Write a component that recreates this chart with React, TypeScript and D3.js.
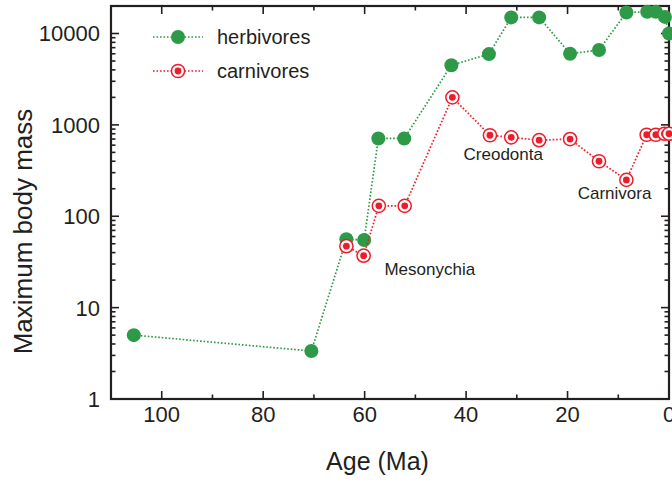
import React from "react";
import * as d3 from "d3";

const herbAge = [105.5, 70.5, 63.6, 60.1, 57.3, 52.2, 42.9, 35.5, 31.1, 25.6, 19.5, 13.8, 8.4, 4.3, 2.6, 0.8, 0];
const herbMass = [5, 3.35, 56, 55, 710, 710, 4500, 5950, 15000, 15000, 6000, 6600, 17000, 17300, 17300, 15200, 10000];
const carnAge = [63.6, 60.2, 57.2, 52.1, 42.7, 35.3, 31.1, 25.6, 19.5, 13.8, 8.4, 4.4, 2.6, 0.9, 0];
const carnMass = [47, 37, 130, 130, 2000, 770, 730, 680, 700, 400, 250, 780, 780, 800, 800];

const xMajor = [100, 80, 60, 40, 20, 0];
const xMinor = [110, 90, 70, 50, 30, 10];
const yMajor = [1, 10, 100, 1000, 10000];

const annotations = [
  { text: "Mesonychia", age: 56.1, mass: 23 },
  { text: "Creodonta", age: 40.5, mass: 417 },
  { text: "Carnivora", age: 18.0, mass: 154 },
];

const GREEN = "#2e9a47";
const RED = "#ee1c2a";
const INK = "#231f20";
const FONT = "'Liberation Sans', Arial, Helvetica, sans-serif";

export default function App() {
  const W = 672, H = 483;
  const left = 111, right = 669, top = 6, bottom = 399;
  const x = d3.scaleLinear().domain([110, 0]).range([left, right]);
  const y = d3.scaleLog().domain([1, 20000]).range([bottom, top]);

  const herb = herbAge.map((a, i) => [a, herbMass[i]] as [number, number]);
  const carn = carnAge.map((a, i) => [a, carnMass[i]] as [number, number]);
  const line = d3.line<[number, number]>().x(d => x(d[0])).y(d => y(d[1]));

  const yMinor: number[] = [];
  for (let e = 0; e < 5; e++) {
    for (let m = 2; m <= 9; m++) {
      const v = m * Math.pow(10, e);
      if (v <= 20000) yMinor.push(v);
    }
  }

  const majLen = 8, minLen = 4.5;
  const dash = "1.6 1.9";

  return (
    <svg width={W} height={H} style={{ position: "absolute", left: 0, top: 0, background: "#fff" }} fontFamily={FONT}>
      <rect x={0} y={0} width={W} height={H} fill="#fff" />
      {/* ticks */}
      <g stroke={INK} strokeWidth={1.6}>
        {xMajor.map(v => (
          <g key={"xM" + v}>
            <line x1={x(v)} x2={x(v)} y1={bottom} y2={bottom - majLen} />
            <line x1={x(v)} x2={x(v)} y1={top} y2={top + majLen} />
          </g>
        ))}
        {xMinor.map(v => (
          <g key={"xm" + v}>
            <line x1={x(v)} x2={x(v)} y1={bottom} y2={bottom - minLen} />
            <line x1={x(v)} x2={x(v)} y1={top} y2={top + minLen} />
          </g>
        ))}
        {yMajor.map(v => (
          <g key={"yM" + v}>
            <line x1={left} x2={left + majLen} y1={y(v)} y2={y(v)} />
            <line x1={right} x2={right - majLen} y1={y(v)} y2={y(v)} />
          </g>
        ))}
        {yMinor.map(v => (
          <g key={"ym" + v}>
            <line x1={left} x2={left + minLen} y1={y(v)} y2={y(v)} />
            <line x1={right} x2={right - minLen} y1={y(v)} y2={y(v)} />
          </g>
        ))}
      </g>
      <rect x={left} y={top} width={right - left} height={bottom - top} fill="none" stroke={INK} strokeWidth={2.2} />

      {/* tick labels */}
      <g fill={INK} fontSize={22}>
        {xMajor.map(v => (
          <text key={"xl" + v} x={x(v)} y={422} textAnchor="middle">{v}</text>
        ))}
        {yMajor.map(v => (
          <text key={"yl" + v} x={100} y={y(v)} dy="0.36em" textAnchor="end">{v}</text>
        ))}
      </g>

      {/* axis titles */}
      <text x={377.5} y={470} textAnchor="middle" fontSize={25} fill={INK}>Age (Ma)</text>
      <text transform="translate(32,231.5) rotate(-90)" textAnchor="middle" fontSize={26} fill={INK}>Maximum body mass</text>

      {/* herbivores */}
      <path d={line(herb) || ""} fill="none" stroke={GREEN} strokeWidth={1.7} strokeDasharray={dash} />
      {herb.map((d, i) => (
        <circle key={"h" + i} cx={x(d[0])} cy={y(d[1])} r={7} fill={GREEN} />
      ))}

      {/* carnivores */}
      <path d={line(carn) || ""} fill="none" stroke={RED} strokeWidth={1.7} strokeDasharray={dash} />
      {carn.map((d, i) => (
        <g key={"c" + i}>
          <circle cx={x(d[0])} cy={y(d[1])} r={6.6} fill="#fff" stroke={RED} strokeWidth={1.5} />
          <circle cx={x(d[0])} cy={y(d[1])} r={3.4} fill={RED} />
        </g>
      ))}

      {/* annotations */}
      <g fontSize={17} fill={INK}>
        {annotations.map(a => (
          <text key={a.text} x={x(a.age)} y={y(a.mass)}>{a.text}</text>
        ))}
      </g>

      {/* legend */}
      <g>
        <line x1={153} x2={203} y1={37} y2={37} stroke={GREEN} strokeWidth={1.7} strokeDasharray={dash} />
        <circle cx={178} cy={37} r={7} fill={GREEN} />
        <text x={217} y={37} dy="0.36em" fontSize={20} fill={INK}>herbivores</text>
        <line x1={153} x2={203} y1={71} y2={71} stroke={RED} strokeWidth={1.7} strokeDasharray={dash} />
        <circle cx={178} cy={71} r={6.6} fill="#fff" stroke={RED} strokeWidth={1.5} />
        <circle cx={178} cy={71} r={3.4} fill={RED} />
        <text x={217} y={71} dy="0.36em" fontSize={20} fill={INK}>carnivores</text>
      </g>
    </svg>
  );
}
